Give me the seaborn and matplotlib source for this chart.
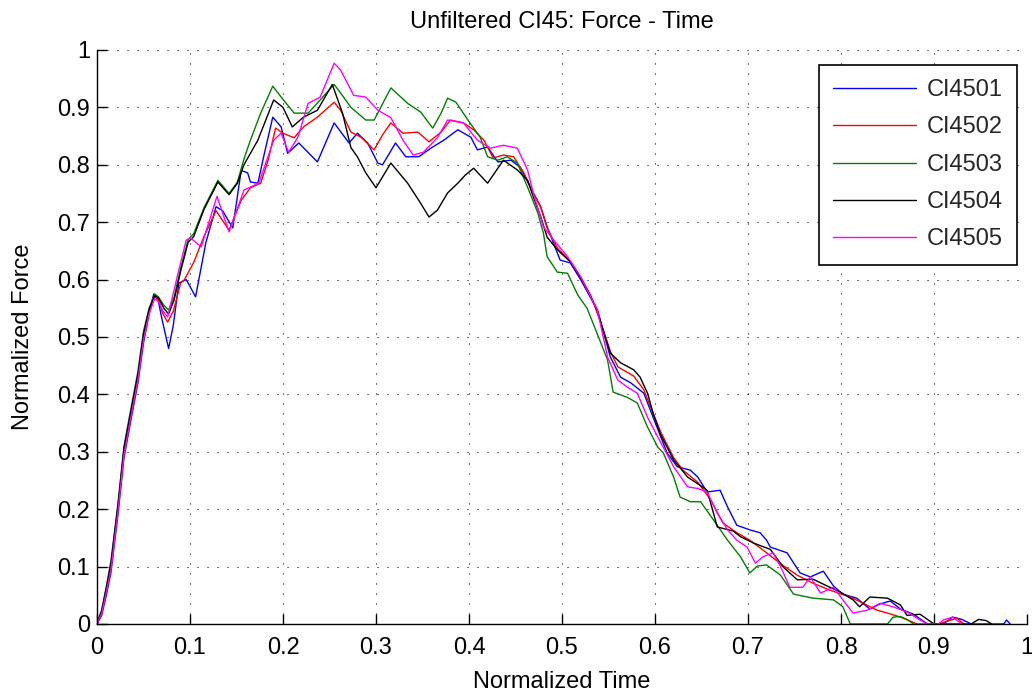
import matplotlib
matplotlib.use("Agg")
import matplotlib.pyplot as plt
import seaborn as sns
import pandas as pd

# ---------------- data ----------------
series_names = ["CI4501", "CI4502", "CI4503", "CI4504", "CI4505"]
series_colors = ["#0000FF", "#FF0000", "#008000", "#000000", "#FF00FF"]

x_4501 = [0, 0.005, 0.01, 0.015, 0.0225, 0.029, 0.037, 0.044, 0.05, 0.056, 0.061, 0.065, 0.07, 0.077,
          0.082, 0.088, 0.096, 0.106, 0.117, 0.128, 0.135, 0.146, 0.155, 0.162, 0.165, 0.173, 0.18, 0.189,
          0.198, 0.205, 0.217, 0.237, 0.255, 0.271, 0.28, 0.291, 0.302, 0.307, 0.321, 0.332, 0.346,
          0.359, 0.373, 0.388, 0.402, 0.409, 0.42, 0.431, 0.445, 0.455, 0.466, 0.477, 0.484, 0.498,
          0.509, 0.52, 0.538, 0.552, 0.563, 0.574, 0.588, 0.598, 0.613, 0.624, 0.638, 0.646, 0.656,
          0.67, 0.678, 0.688, 0.702, 0.713, 0.72, 0.724, 0.742, 0.756, 0.767, 0.781, 0.792, 0.802,
          0.817, 0.831, 0.842, 0.853, 0.864, 0.878, 0.893, 0.91, 0.92, 0.93, 0.94, 0.975, 0.978, 0.982]
y_4501 = [0, 0.015, 0.05, 0.09, 0.19, 0.29, 0.36, 0.42, 0.49, 0.54, 0.575, 0.57, 0.53, 0.48,
          0.52, 0.594, 0.60, 0.57, 0.664, 0.727, 0.72, 0.69, 0.79, 0.786, 0.77, 0.768, 0.82, 0.883,
          0.866, 0.82, 0.838, 0.805, 0.873, 0.838, 0.855, 0.838, 0.803, 0.80, 0.838, 0.814, 0.814,
          0.829, 0.843, 0.861, 0.848, 0.826, 0.831, 0.805, 0.808, 0.796, 0.761, 0.727, 0.692, 0.634,
          0.629, 0.60, 0.547, 0.465, 0.43, 0.42, 0.402, 0.36, 0.298, 0.274, 0.268, 0.256, 0.23,
          0.233, 0.204, 0.172, 0.164, 0.159, 0.146, 0.134, 0.124, 0.089, 0.082, 0.092, 0.066, 0.052,
          0.045, 0.026, 0.035, 0.04, 0.026, 0.017, 0.0, 0.0, 0.012, 0.008, 0.0, 0.0, 0.007, 0.0]

x_4502 = [0, 0.005, 0.01, 0.015, 0.0225, 0.029, 0.037, 0.044, 0.05, 0.056, 0.062, 0.066, 0.071, 0.076,
          0.082, 0.09, 0.094, 0.104, 0.115, 0.128, 0.142, 0.155, 0.165, 0.176, 0.184, 0.192, 0.2,
          0.212, 0.222, 0.237, 0.255, 0.262, 0.273, 0.284, 0.298, 0.307, 0.316, 0.329, 0.345, 0.357,
          0.37, 0.38, 0.394, 0.405, 0.416, 0.426, 0.437, 0.448, 0.459, 0.469, 0.477, 0.484, 0.495,
          0.509, 0.52, 0.531, 0.545, 0.552, 0.56, 0.577, 0.588, 0.598, 0.606, 0.62, 0.63, 0.646,
          0.66, 0.673, 0.688, 0.702, 0.72, 0.735, 0.753, 0.77, 0.788, 0.81, 0.824, 0.839, 0.85,
          0.864, 0.882, 0.905, 0.914, 0.925, 0.932]
y_4502 = [0, 0.02, 0.06, 0.10, 0.20, 0.30, 0.37, 0.43, 0.50, 0.545, 0.57, 0.565, 0.54, 0.526,
          0.545, 0.594, 0.60, 0.63, 0.675, 0.72, 0.686, 0.738, 0.76, 0.768, 0.808, 0.864, 0.855,
          0.847, 0.866, 0.883, 0.909, 0.895, 0.857, 0.848, 0.826, 0.852, 0.873, 0.855, 0.857, 0.84,
          0.857, 0.878, 0.873, 0.861, 0.843, 0.812, 0.817, 0.814, 0.786, 0.751, 0.727, 0.69, 0.655,
          0.632, 0.605, 0.572, 0.51, 0.475, 0.448, 0.432, 0.408, 0.367, 0.335, 0.29, 0.268, 0.247,
          0.216, 0.176, 0.159, 0.146, 0.124, 0.105, 0.085, 0.071, 0.059, 0.047, 0.036, 0.024, 0.019,
          0.012, 0.0, 0.0, 0.005, 0.01, 0.0]

x_4503 = [0, 0.005, 0.01, 0.015, 0.0225, 0.029, 0.037, 0.044, 0.05, 0.056, 0.062, 0.066, 0.072, 0.077,
          0.083, 0.09, 0.098, 0.104, 0.115, 0.13, 0.142, 0.151, 0.158, 0.165, 0.176, 0.189, 0.198,
          0.212, 0.227, 0.24, 0.255, 0.262, 0.273, 0.289, 0.298, 0.316, 0.334, 0.348, 0.361, 0.37,
          0.377, 0.386, 0.398, 0.412, 0.42, 0.431, 0.441, 0.452, 0.463, 0.474, 0.48, 0.484, 0.495,
          0.506, 0.517, 0.527, 0.538, 0.549, 0.555, 0.57, 0.581, 0.592, 0.603, 0.609, 0.62, 0.627,
          0.638, 0.649, 0.663, 0.678, 0.692, 0.702, 0.71, 0.72, 0.735, 0.749, 0.77, 0.792, 0.802,
          0.81, 0.85, 0.856, 0.864, 0.871, 0.878]
y_4503 = [0, 0.025, 0.065, 0.11, 0.21, 0.31, 0.38, 0.44, 0.51, 0.55, 0.575, 0.57, 0.555, 0.547,
          0.57, 0.62, 0.67, 0.68, 0.725, 0.773, 0.75, 0.77, 0.81, 0.843, 0.89, 0.937, 0.918,
          0.89, 0.89, 0.913, 0.94, 0.925, 0.90, 0.878, 0.878, 0.934, 0.907, 0.892, 0.864, 0.89,
          0.916, 0.909, 0.88, 0.848, 0.814, 0.808, 0.814, 0.803, 0.761, 0.716, 0.681, 0.64, 0.613,
          0.611, 0.573, 0.55, 0.505, 0.46, 0.404, 0.395, 0.385, 0.343, 0.308, 0.298, 0.256, 0.221,
          0.213, 0.213, 0.181, 0.146, 0.117, 0.089, 0.101, 0.103, 0.085, 0.052, 0.045, 0.042, 0.03,
          0.0, 0.0, 0.012, 0.013, 0.008, 0.0]

x_4504 = [0, 0.005, 0.01, 0.015, 0.0225, 0.029, 0.037, 0.044, 0.05, 0.056, 0.062, 0.066, 0.072, 0.077,
          0.083, 0.09, 0.098, 0.104, 0.115, 0.13, 0.142, 0.151, 0.158, 0.173, 0.19, 0.2, 0.21, 0.222,
          0.237, 0.253, 0.264, 0.273, 0.28, 0.289, 0.3, 0.316, 0.334, 0.348, 0.357, 0.366, 0.377,
          0.388, 0.396, 0.405, 0.42, 0.431, 0.437, 0.452, 0.463, 0.469, 0.477, 0.484, 0.495, 0.509,
          0.52, 0.531, 0.538, 0.545, 0.552, 0.563, 0.577, 0.584, 0.592, 0.598, 0.606, 0.62, 0.635,
          0.649, 0.656, 0.667, 0.684, 0.692, 0.706, 0.724, 0.738, 0.753, 0.77, 0.788, 0.799, 0.813,
          0.82, 0.831, 0.85, 0.864, 0.871, 0.885, 0.9, 0.94, 0.948, 0.956, 0.962]
y_4504 = [0, 0.022, 0.062, 0.105, 0.205, 0.305, 0.375, 0.435, 0.505, 0.548, 0.572, 0.568, 0.55, 0.54,
          0.565, 0.615, 0.665, 0.675, 0.722, 0.77, 0.748, 0.768, 0.80, 0.843, 0.913, 0.90, 0.866, 0.883,
          0.895, 0.94, 0.89, 0.83, 0.814, 0.786, 0.76, 0.803, 0.768, 0.733, 0.709, 0.721, 0.751,
          0.768, 0.782, 0.794, 0.768, 0.794, 0.808, 0.791, 0.773, 0.745, 0.71, 0.674, 0.652, 0.631,
          0.603, 0.57, 0.547, 0.507, 0.472, 0.455, 0.443, 0.43, 0.402, 0.367, 0.33, 0.286, 0.256,
          0.241, 0.233, 0.169, 0.162, 0.152, 0.141, 0.13, 0.099, 0.077, 0.078, 0.064, 0.056, 0.042,
          0.03, 0.047, 0.045, 0.033, 0.015, 0.017, 0.0, 0.0, 0.008, 0.006, 0.0]

x_4505 = [0, 0.005, 0.01, 0.015, 0.0225, 0.029, 0.037, 0.044, 0.05, 0.056, 0.062, 0.066, 0.071, 0.076,
          0.087, 0.096, 0.101, 0.112, 0.129, 0.142, 0.158, 0.174, 0.19, 0.198, 0.206, 0.216, 0.227,
          0.24, 0.255, 0.262, 0.276, 0.289, 0.302, 0.316, 0.329, 0.34, 0.351, 0.366, 0.377, 0.394,
          0.409, 0.423, 0.437, 0.452, 0.463, 0.469, 0.48, 0.491, 0.506, 0.52, 0.538, 0.549, 0.56,
          0.57, 0.581, 0.592, 0.603, 0.62, 0.635, 0.646, 0.656, 0.667, 0.678, 0.688, 0.699, 0.708,
          0.716, 0.727, 0.735, 0.745, 0.759, 0.767, 0.778, 0.792, 0.802, 0.813, 0.828, 0.842, 0.856,
          0.871, 0.885, 0.893, 0.905, 0.91, 0.92, 0.93]
y_4505 = [0, 0.018, 0.055, 0.095, 0.195, 0.295, 0.365, 0.425, 0.495, 0.54, 0.567, 0.562, 0.545, 0.535,
          0.61, 0.669, 0.672, 0.657, 0.745, 0.683, 0.756, 0.768, 0.843, 0.855, 0.822, 0.848, 0.907,
          0.918, 0.977, 0.965, 0.921, 0.918, 0.895, 0.882, 0.843, 0.817, 0.822, 0.847, 0.878, 0.873,
          0.843, 0.829, 0.834, 0.829, 0.791, 0.751, 0.692, 0.669, 0.64, 0.605, 0.547, 0.465, 0.425,
          0.413, 0.402, 0.36, 0.326, 0.274, 0.239, 0.236, 0.23, 0.193, 0.164, 0.146, 0.134, 0.106,
          0.117, 0.124, 0.1, 0.064, 0.064, 0.082, 0.054, 0.064, 0.042, 0.019, 0.024, 0.036, 0.03,
          0.021, 0.007, 0.0, 0.0, 0.007, 0.012, 0.0]

tick_values = [0, 0.1, 0.2, 0.3, 0.4, 0.5, 0.6, 0.7, 0.8, 0.9, 1]
tick_labels = ["0", "0.1", "0.2", "0.3", "0.4", "0.5", "0.6", "0.7", "0.8", "0.9", "1"]

# ---------------- build long table ----------------
xs = [x_4501, x_4502, x_4503, x_4504, x_4505]
ys = [y_4501, y_4502, y_4503, y_4504, y_4505]
frames = []
for name, xv, yv in zip(series_names, xs, ys):
    frames.append(pd.DataFrame({"Normalized Time": xv, "Normalized Force": yv, "series": name}))
df = pd.concat(frames, ignore_index=True)

# ---------------- style ----------------
sns.set_theme(style="white")
plt.rcParams["font.family"] = ["Liberation Sans", "DejaVu Sans"]
FS = 17

fig = plt.figure(figsize=(10.32, 6.95), dpi=100)
ax = fig.add_axes([97 / 1032, 1 - 624 / 695, (1027 - 97) / 1032, (624 - 50) / 695])

sns.lineplot(data=df, x="Normalized Time", y="Normalized Force", hue="series",
             hue_order=series_names, palette=dict(zip(series_names, series_colors)),
             sort=False, estimator=None, linewidth=1.0, ax=ax)

ax.set_xlim(0, 1)
ax.set_ylim(0, 1)
ax.set_xticks(tick_values)
ax.set_xticklabels(tick_labels)
ax.set_yticks(tick_values)
ax.set_yticklabels(tick_labels)
ax.tick_params(direction="in", length=7.2, width=1.0, colors="black", labelsize=FS,
               bottom=True, left=True, top=False, right=False, pad=5)
ax.tick_params(axis="x", pad=9)
ax.grid(True, color="black", linestyle=(0, (1, 8.6)), linewidth=0.75)
for s in ["top", "right"]:
    ax.spines[s].set_visible(False)
for s in ["left", "bottom"]:
    ax.spines[s].set_color("black")
    ax.spines[s].set_linewidth(1.0)
ax.set_facecolor("white")

ax.set_xlabel("Normalized Time", fontsize=FS, color="black", labelpad=9)
ax.set_ylabel("Normalized Force", fontsize=FS, color="black", labelpad=17)
ax.set_title("Unfiltered CI45: Force - Time", fontsize=FS, color="black", pad=16)

leg = ax.legend(loc="upper right", bbox_to_anchor=(0.989, 0.974), borderaxespad=0,
                fontsize=FS, frameon=True, fancybox=False, edgecolor="black",
                handlelength=3.5, handletextpad=0.45, labelspacing=0.65, borderpad=0.6,
                title=None)
leg.get_frame().set_linewidth(1.2)
leg.get_frame().set_facecolor("white")
leg.get_frame().set_alpha(1)

fig.savefig("out.png", dpi=100, facecolor="white")
